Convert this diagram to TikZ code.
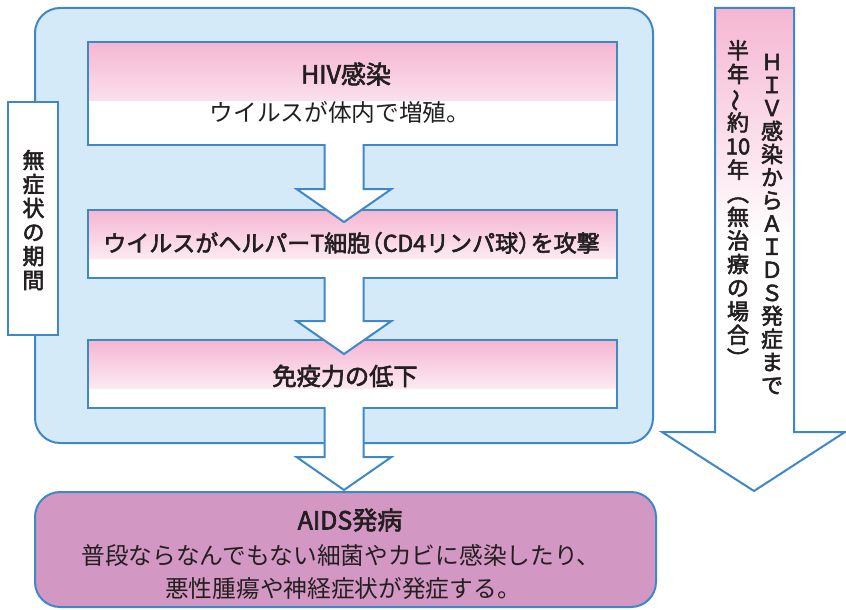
\documentclass[tikz,border=0pt]{standalone}
\usepackage{fontspec}
\setmainfont{Noto Sans CJK JP}
\newfontfamily\medfont[FakeBold=2.5]{Noto Sans CJK JP}
\usepackage{graphicx}
\usetikzlibrary{calc}
\definecolor{bl}{RGB}{62,136,201}
\definecolor{lbl}{RGB}{212,234,248}
\definecolor{pk}{RGB}{245,182,210}
\definecolor{mv}{RGB}{211,151,195}
\definecolor{tx}{RGB}{35,31,32}
\tikzset{
  bx/.style={draw=bl, line width=2pt, inner sep=0pt, outer sep=0pt},
  pinkbox/.style={bx, fill=white, minimum width=529pt,
    path picture={\shade[top color=pk,bottom color=white]
      (path picture bounding box.north west) rectangle
      ([yshift=-#1]path picture bounding box.north east);}},
  blockarrow/.style={draw=bl, fill=white, line width=2pt, line join=miter},
  txt/.style={text=tx, inner sep=0pt, align=center, font=\fontsize{23.7}{27}\selectfont},
  btxt/.style={text=tx, inner sep=0pt, align=center, font=\medfont\fontsize{#1}{27}\selectfont},
  vtxt/.style={text=tx, inner sep=0pt, align=center, font=\medfont\fontsize{22}{#1}\selectfont},
}
\newcommand\dnarrow[3]{%
  \path[blockarrow] let \p0=(outer.center), \p1=(#1.south), \p2=(#2.north) in
    (\x0-19.5,\y1+1) -- (\x0-19.5,\y2#3+33) -- (\x0-47.5,\y2#3+33) -- (\x0,\y2#3)
    -- (\x0+47.5,\y2#3+33) -- (\x0+19.5,\y2#3+33) -- (\x0+19.5,\y1+1);
}
\begin{document}
\begin{tikzpicture}[x=1pt,y=1pt]
\useasboundingbox (0,0) rectangle (846,-610);
% outer light-blue panel
\node[bx, fill=lbl, rounded corners=25pt, minimum width=618pt, minimum height=435pt] (outer) at (344,-225.5) {};
% left label
\node[bx, fill=white, minimum width=50pt, minimum height=233pt] (lab) at (33,-218.5) {};
\node[vtxt=24] (labt) at (33.5,-220) {無\\症\\状\\の\\期\\間};
% pink boxes
\node[pinkbox=58pt, minimum height=103pt] (b1) at (352.5,-93.5) {};
\node[btxt=25] (t1a) at (346,-74) {HIV感染};
\node[txt] (t1b) at (340,-112) {ウイルスが体内で増殖。};
\node[pinkbox=48pt, minimum height=68pt] (b2) at (352.5,-244) {};
\node[btxt=23] (t2) at (351.5,-243) {ウイルスがヘルパーT細胞\kern-0.45em（CD4リンパ球）\kern-0.45em を攻撃};
\node[pinkbox=48pt, minimum height=68pt] (b3) at (352.5,-374) {};
\node[btxt=24.2] (t3) at (345,-376) {免疫力の低下};
% bottom box
\node[bx, fill=mv, rounded corners=25pt, minimum width=621pt, minimum height=115pt] (aids) at (345.5,-549.5) {};
\node[btxt=25] (t4a) at (350,-520) {AIDS発病};
\node[txt] (t4b) at (341,-555) {普段ならなんでもない細菌やカビに感染したり、};
\node[txt] (t4c) at (343,-588) {悪性腫瘍や神経症状が発症する。};
% down arrows
\dnarrow{b1}{b2}{-12}
\dnarrow{b2}{b3}{-14}
\dnarrow{b3}{aids}{+2}
% right big arrow
\fill[white] (715,-8) -- (715,-432) -- (662,-432) -- (754,-491) -- (845,-432) -- (794,-432) -- (794,-8) -- cycle;
\shade[top color=pk,bottom color=white] (715,-8) rectangle (794,-240);
\draw[blockarrow, fill=none] (715,-8) -- (715,-432) -- (662,-432) -- (754,-491) -- (845,-432) -- (794,-432) -- (794,-8) -- cycle;
\node[vtxt=23.1] (rt1) at (772,-224) {Ｈ\\Ｉ\\Ｖ\\感\\染\\か\\ら\\Ａ\\Ｉ\\Ｄ\\Ｓ\\発\\症\\ま\\で};
\node[vtxt=23.6] (rt2) at (738,-203.5) {半\\年\\\rotatebox[origin=c]{90}{～}\\約\\10\\年\\︵\\無\\治\\療\\の\\場\\合\\︶};
\end{tikzpicture}
\end{document}
